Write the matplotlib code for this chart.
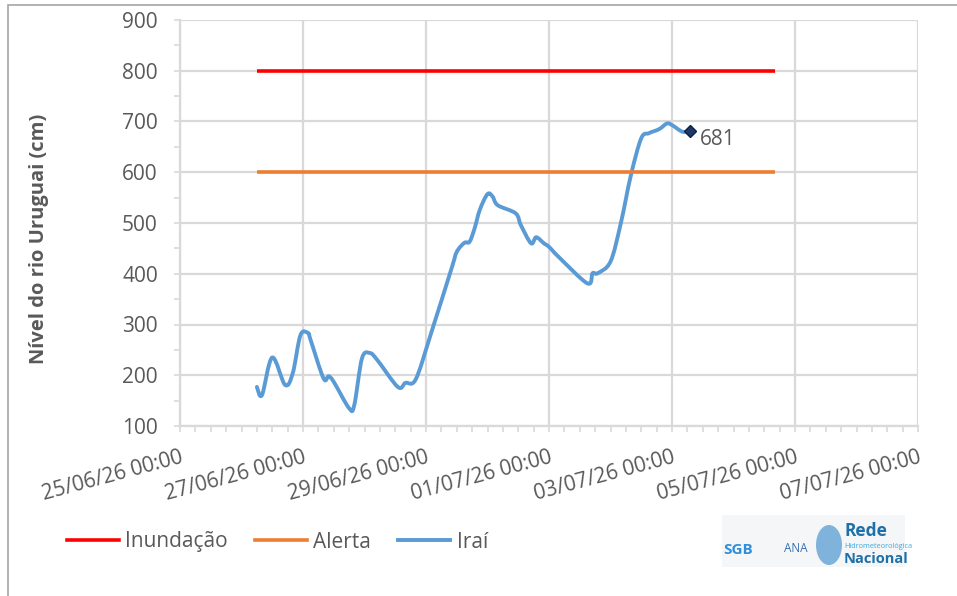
import numpy as np
import pandas as pd
import matplotlib
matplotlib.use("Agg")
import matplotlib.pyplot as plt
import matplotlib.dates as mdates
from matplotlib.patches import Rectangle, Ellipse, PathPatch
from matplotlib.path import Path
from matplotlib.lines import Line2D

plt.rcParams['font.family'] = ['Open Sans', 'DejaVu Sans']

# river level at Iraí: hours after 25/06/26 00:00 and level in cm
base = pd.Timestamp("2026-06-25 00:00")
irai_hours = [30, 32, 36, 41, 44, 47, 50, 51, 56, 58, 60, 66, 68, 71, 74, 77,
              85, 88, 92, 98, 106, 108, 111, 113, 115, 117, 120, 122, 124,
              131, 133, 137, 139, 142, 144, 148, 159, 161, 163, 168, 172,
              176, 180, 183, 187, 190, 192, 196, 199]
irai_cm = [177, 161, 235, 181, 204, 279, 283, 269, 194, 198, 187, 135, 141,
           233, 244, 230, 177, 185, 192, 283, 411, 443, 461, 463, 490, 526,
           557, 552, 535, 519, 496, 460, 472, 460, 453, 432, 381, 401, 401,
           424, 499, 595, 667, 677, 685, 696, 693, 680, 681]

# reference levels, drawn over the same window
limit_hours = [30, 232]
inundacao_cm = 800
alerta_cm = 600

t_irai = base + pd.to_timedelta(irai_hours, unit="h")
t_limit = base + pd.to_timedelta(limit_hours, unit="h")

grey = "#595959"
grid = "#D9D9D9"
blue = "#5B9BD5"


def smooth_path(x, y):
    # Catmull-Rom style bezier through every point
    p = np.column_stack([x, y]).astype(float)
    ext = np.vstack([p[0], p, p[-1]])
    verts = [p[0]]
    codes = [Path.MOVETO]
    for i in range(len(p) - 1):
        p0, p1, p2, p3 = ext[i], ext[i + 1], ext[i + 2], ext[i + 3]
        verts += [p1 + (p2 - p0) / 6, p2 - (p3 - p1) / 6, p2]
        codes += [Path.CURVE4] * 3
    return Path(verts, codes)


fig = plt.figure(figsize=(9.57, 5.96), dpi=100)
ax = fig.add_axes([180 / 957, 1 - 426 / 596, 738 / 957, 406 / 596])

ax.plot(t_limit, [inundacao_cm] * 2, color="#FF0000", lw=2.6,
        solid_capstyle="butt")
ax.plot(t_limit, [alerta_cm] * 2, color="#ED7D31", lw=2.6,
        solid_capstyle="butt")
ax.add_patch(PathPatch(smooth_path(mdates.date2num(t_irai), irai_cm),
                       fill=False, edgecolor=blue, lw=2.8,
                       joinstyle="round", capstyle="round"))
ax.plot(t_irai[-1:], irai_cm[-1:], marker="D", ms=6.5, color="#1F3864",
        markeredgecolor="#0B1F4A", ls="none")
ax.annotate(str(irai_cm[-1]), (t_irai[-1], irai_cm[-1]), xytext=(7, -6),
            textcoords="offset points", ha="left", va="center",
            fontsize=15, color=grey)

ax.set_ylim(100, 900)
ax.set_yticks(np.arange(100, 901, 100))
ax.set_yticks(np.arange(150, 900, 100), minor=True)
ax.set_xlim(base, base + pd.Timedelta(days=12))
ax.xaxis.set_major_locator(mdates.DayLocator(interval=2))
ax.xaxis.set_minor_locator(mdates.HourLocator(byhour=[0, 6, 12, 18]))
ax.xaxis.set_major_formatter(mdates.DateFormatter("%d/%m/%y %H:%M"))

ax.grid(True, which="major", color=grid, lw=1.6)
ax.set_axisbelow(True)
for side in ("top", "right"):
    ax.spines[side].set_visible(False)
for side in ("left", "bottom"):
    ax.spines[side].set_color(grid)
    ax.spines[side].set_linewidth(1.6)
ax.tick_params(which="both", direction="out", length=4, color=grid, width=1.2)
ax.tick_params(axis="y", labelsize=15, labelcolor=grey, pad=12)
ax.tick_params(axis="x", labelsize=15, labelcolor=grey, pad=11)
for lbl in ax.get_xticklabels():
    lbl.set_rotation(15)
    lbl.set_ha("right")
    lbl.set_va("top")
    lbl.set_rotation_mode("anchor")

ax.set_ylabel("Nível do rio Uruguai (cm)", fontsize=14.5, fontweight="bold",
              color=grey)
ax.yaxis.set_label_coords(-0.178, 0.46)

handles = [Line2D([], [], color="#FF0000", lw=2.6),
           Line2D([], [], color="#ED7D31", lw=2.6),
           Line2D([], [], color=blue, lw=2.8)]
fig.legend(handles, ["Inundação", "Alerta", "Iraí"], loc="center left",
           bbox_to_anchor=(67 / 957, 1 - 542 / 596), ncol=3, frameon=False,
           fontsize=15, handlelength=2.5, handletextpad=0.3,
           columnspacing=1.3, borderpad=0, borderaxespad=0, labelcolor=grey)

# frame around the chart area
fig.patches.append(Rectangle((8 / 957, -0.1), 1.1, 1 - 5 / 596 + 0.1,
                             transform=fig.transFigure, fill=False,
                             edgecolor="#A6A6A6", lw=1.2))

# logo block in the lower right corner
fig.patches.append(Rectangle((722 / 957, 1 - 567 / 596), 183 / 957, 52 / 596,
                             transform=fig.transFigure, color="#F4F6F8", lw=0))
fig.text(723 / 957, 1 - 550 / 596, "SGB", fontsize=11, fontweight="bold",
         color="#2E8FD8", va="center")
fig.text(784 / 957, 1 - 548 / 596, "ANA", fontsize=8.5, color="#3A6FB0",
         va="center")
fig.patches.append(Ellipse((829 / 957, 1 - 545 / 596), 26 / 957, 40 / 596,
                           transform=fig.transFigure, color="#7FB3DC", lw=0))
fig.text(844 / 957, 1 - 531 / 596, "Rede", fontsize=12.5, fontweight="bold",
         color="#1F6FA8", va="center")
fig.text(844 / 957, 1 - 546 / 596, "Hidrometeorológica", fontsize=5.2,
         color="#3BA6E0", va="center")
fig.text(844 / 957, 1 - 559 / 596, "Nacional", fontsize=10.5,
         fontweight="bold", color="#1F6FA8", va="center")

fig.savefig("out.png", dpi=100)
